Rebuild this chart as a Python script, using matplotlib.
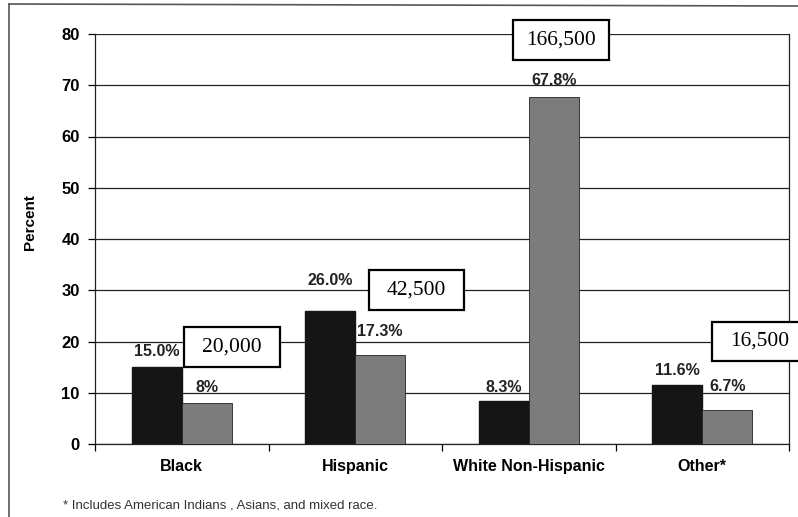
import matplotlib
matplotlib.use("Agg")
import matplotlib.pyplot as plt
from matplotlib.patches import Rectangle
from matplotlib.lines import Line2D
import numpy as np

plt.rcParams['font.family'] = ['Liberation Sans', 'DejaVu Sans']

# data
categories = ['Black', 'Hispanic', 'White Non-Hispanic', 'Other*']
dark_vals = [15.0, 26.0, 8.3, 11.6]
gray_vals = [8.0, 17.3, 67.8, 6.7]
dark_labels = ['15.0%', '26.0%', '8.3%', '11.6%']
gray_labels = ['8%', '17.3%', '67.8%', '6.7%']
box_texts = ['20,000', '42,500', '166,500', '16,500']

# label offsets above the bar tops (points) and box centres (data coords)
dark_off = [11.5, 21.5, 10, 10]
gray_off = [11, 17, 11.5, 17]
box_x = [0.29, 1.353, 2.186, 3.33]
box_y = [19.0, 30.0, 78.9, 20.0]
box_w, box_h = 0.553, 7.8

fig = plt.figure(figsize=(7.98, 5.17), dpi=100)
ax = fig.add_axes([95/798, 1 - 444/517, 694/798, 410/517])

x = np.arange(len(categories))
w = 50/173.5
ax.bar(x - w/2, dark_vals, w, color='#151515', edgecolor='#151515', zorder=3)
ax.bar(x + w/2, gray_vals, w, color='#7c7c7c', edgecolor='#222222', lw=0.6, zorder=3)

for i in range(len(categories)):
    ax.annotate(dark_labels[i], (x[i] - w/2, dark_vals[i]), xytext=(0, dark_off[i]),
                textcoords='offset points', ha='center', va='center',
                fontsize=11.5, fontweight='bold', color='#222222', zorder=5)
    ax.annotate(gray_labels[i], (x[i] + w/2, gray_vals[i]), xytext=(0, gray_off[i]),
                textcoords='offset points', ha='center', va='center',
                fontsize=11.5, fontweight='bold', color='#222222', zorder=5)

for bx, by, t in zip(box_x, box_y, box_texts):
    ax.add_patch(Rectangle((bx - box_w/2, by - box_h/2), box_w, box_h,
                           facecolor='white', edgecolor='black', lw=1.6,
                           zorder=6, clip_on=False))
    ax.text(bx, by, t, ha='center', va='center', fontsize=15.5,
            family='Liberation Serif', zorder=7, clip_on=False)

ax.set_xlim(-0.5, len(categories) - 0.5)
ax.set_ylim(0, 80)
ax.set_yticks(range(0, 81, 10))
ax.yaxis.grid(True, color='#222222', lw=0.9, zorder=0)
ax.set_axisbelow(True)
ax.set_xticks(x)
ax.set_xticklabels(categories, fontsize=11.5, fontweight='bold')
ax.set_xticks(np.arange(-0.5, len(categories), 1), minor=True)
ax.tick_params(axis='x', which='major', length=0, pad=11)
ax.tick_params(axis='x', which='minor', length=5, width=0.9, direction='out')
ax.tick_params(axis='y', length=5, width=0.9, pad=6, labelsize=12)
for lab in ax.get_yticklabels():
    lab.set_fontweight('bold')
ax.spines['top'].set_visible(False)
for s in ['left', 'bottom', 'right']:
    ax.spines[s].set_color('#222222')
    ax.spines[s].set_linewidth(0.9)

fig.text(30/798, 1 - 222/517, 'Percent', rotation=90, ha='center', va='center',
         fontsize=11, fontweight='bold')
fig.text(63/798, 1 - 505/517, '* Includes American Indians , Asians, and mixed race.',
         ha='left', va='center', fontsize=9.5, color='#333333')

# scanned page frame
fig.add_artist(Line2D([9/798, 9/798], [0, 1 - 4/517], color='#555555', lw=1.2))
fig.add_artist(Line2D([9/798, 1], [1 - 4/517, 1 - 6/517], color='#555555', lw=1.2))

fig.savefig('out.png', dpi=100)
